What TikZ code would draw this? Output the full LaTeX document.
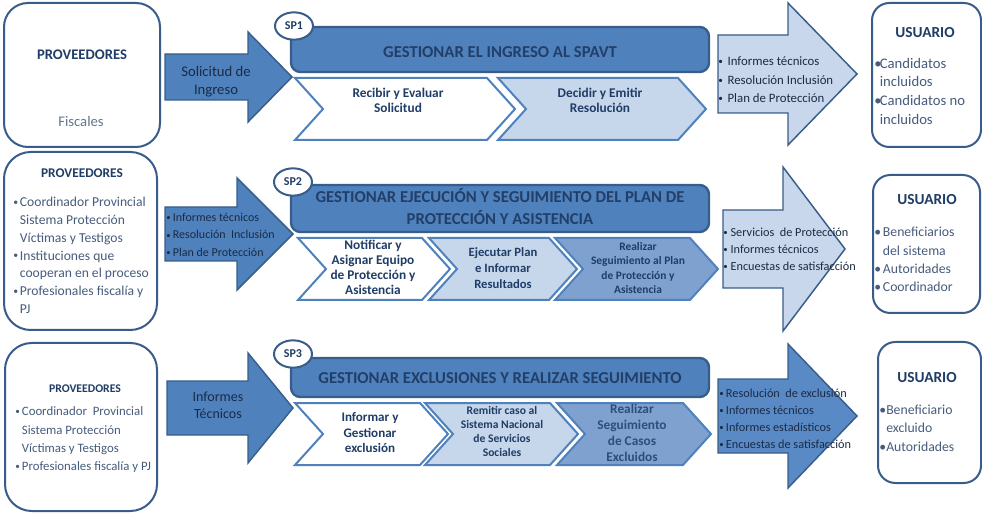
\documentclass[tikz,border=0pt]{standalone}
\usepackage{fontspec}
\usepackage{graphicx}
\setmainfont{Carlito}
\usetikzlibrary{shapes.geometric}

\definecolor{bar}{HTML}{4F81BD}
\definecolor{barline}{HTML}{385D8A}
\definecolor{pale}{HTML}{C6D6EB}
\definecolor{paleout}{HTML}{C8D7EB}
\definecolor{midblue}{HTML}{7EA1CF}
\definecolor{outdark}{HTML}{5A8AC6}
\definecolor{navy}{HTML}{1F3D66}
\definecolor{ink}{HTML}{1A2B45}
\definecolor{slate}{HTML}{475C7C}
\definecolor{fog}{HTML}{62768F}
\definecolor{headtxt}{HTML}{223F69}
\definecolor{steptxt}{HTML}{2E4E78}

\newlength\bw
% full-size bullet and a smaller one, each in a box of width \bw
\newcommand\bl{\strut\makebox[\bw][l]{\textbullet}}
\newcommand\sbl{\strut\makebox[\bw][l]{\raisebox{.08em}{\scalebox{.72}{\textbullet}}}}
\newcommand\ind{\strut\hspace*{\bw}}
\newcommand\fs[2]{\fontsize{#1}{#2}\selectfont}

% chevron: style, left x, right x, top y, bottom y, point depth
\newcommand\chevron[6]{%
  \draw[chev,#1] (#2,#4) -- (#3,#4) -- ({#3+#6},{(#4+#5)/2}) -- (#3,#5)
    -- (#2,#5) -- ({#2+#6},{(#4+#5)/2}) -- cycle;}
% block arrow: style, tail x, head base x, tip x, centre y, half body, half head
\newcommand\blockarrow[7]{%
  \draw[#1] (#2,{#5-#6}) -- (#3,{#5-#6}) -- (#3,{#5-#7}) -- (#4,#5)
    -- (#3,{#5+#7}) -- (#3,{#5+#6}) -- (#2,{#5+#6}) -- cycle;}

\tikzset{
  frame/.style={draw=barline, line width=1.5pt, fill=white},
  inarrow/.style={draw=barline, line width=1.1pt, fill=bar},
  outarrow/.style={draw=barline, line width=1.1pt, fill=paleout},
  titlebar/.style={draw=barline, line width=1.8pt, fill=bar, rounded corners=7pt},
  chev/.style={draw=bar, line width=1.5pt},
  tag/.style={ellipse, draw=barline, line width=1.5pt, fill=white, inner sep=0pt,
     minimum width=28.5pt, minimum height=20.5pt, text=navy, font=\bfseries\fs{9}{10}},
  head/.style={inner sep=0pt, text=headtxt, font=\bfseries\fs{12.5}{16.5}, align=center},
  boxhead/.style={inner sep=0pt, text=navy},
  stepname/.style={inner sep=0pt, align=center, text=navy},
  list/.style={inner sep=0pt, align=left, anchor=west},
}

\begin{document}
\begin{tikzpicture}[x=0.75pt, y=-0.75pt, line join=miter]
\useasboundingbox (0,0) rectangle (982,513);

% ---------- SP1 ----------
\draw[frame, rounded corners=18pt] (4,3) rectangle (160,147);
\node[boxhead, font=\bfseries\fs{11}{13}] (prov1) at (82,55) {PROVEEDORES};
\node[inner sep=0pt, text=fog, font=\fs{11}{13}] (fisc) at (81,121) {Fiscales};

\blockarrow{inarrow}{165}{248}{292}{77}{23}{45}
\node[stepname, text=ink, font=\fs{11}{13.5}] (in1) at (216,82) {\strut Solicitud de\\Ingreso\strut};

\draw[titlebar] (291,27) rectangle (709,72);
\node[head] (t1) at (500,52) {GESTIONAR EL INGRESO AL SPAVT};
\node[tag] (sp1) at (294,26) {SP1};

\chevron{fill=white}{295}{487}{78}{140}{28}
\chevron{fill=pale}{498}{678}{78}{140}{28}
\node[stepname, font=\bfseries\fs{10}{11.3}] (s11) at (398,102) {\strut Recibir y Evaluar\\Solicitud\strut};
\node[stepname, font=\bfseries\fs{10}{11.3}] (s12) at (600,102) {\strut Decidir y Emitir\\Resolución\strut};

\blockarrow{outarrow}{718}{788}{857}{74}{39}{71}
\node[list, text=ink, font=\fs{9.6}{13.9}\setlength\bw{7pt}] (out1) at (718,80.5)
  {\sbl Informes técnicos\\\sbl Resolución Inclusión\\\sbl Plan de Protección};

\draw[frame, rounded corners=13pt] (872,3) rectangle (981,147);
\node[boxhead, font=\bfseries\fs{11.5}{13}] (usr1) at (925,33) {USUARIO};
\node[list, text=slate, font=\fs{11}{13.9}\setlength\bw{4.2pt}] (usl1) at (874,92.5)
  {\bl Candidatos\\\ind incluidos\\\bl Candidatos no\\\ind incluidos};

% ---------- SP2 ----------
\draw[frame, rounded corners=20pt] (4,152) rectangle (157,330);
\node[boxhead, font=\bfseries\fs{10}{12}] (prov2) at (82,173) {PROVEEDORES};
\node[list, text=slate, font=\fs{10.2}{13.35}\setlength\bw{5pt}] (pl2) at (13,256.5)
  {\sbl Coordinador Provincial\\\ind Sistema Protección\\\ind Víctimas y Testigos\\
   \sbl Instituciones que\\\ind cooperan en el proceso\\\sbl Profesionales fiscalía y\\\ind PJ};

\blockarrow{inarrow}{165}{237}{293}{234}{27}{56}
\node[list, text=ink, font=\fs{9}{13}\setlength\bw{5pt}] (in2) at (166,235.5)
  {\sbl Informes técnicos\\\sbl Resolución\ \ Inclusión\\\sbl Plan de Protección};

\draw[titlebar] (291,185) rectangle (709,232);
\node[head] (t2) at (500,209) {\strut GESTIONAR EJECUCIÓN Y SEGUIMIENTO DEL PLAN DE\\PROTECCIÓN Y ASISTENCIA\strut};
\node[tag] (sp2) at (293,182) {SP2};

\chevron{fill=white}{298}{422}{238}{300}{28}
\chevron{fill=pale}{429}{549}{238}{300}{28}
\chevron{fill=midblue}{555}{690}{238}{300}{28}
\node[stepname, font=\bfseries\fs{10}{11.25}] (s21) at (373,269.5) {\strut Notificar y\\Asignar Equipo\\de Protección y\\Asistencia\strut};
\node[stepname, font=\bfseries\fs{9.5}{12}] (s22) at (503,269) {\strut Ejecutar Plan\\e Informar\\Resultados\strut};
\node[stepname, font=\bfseries\fs{8.6}{10.9}] (s23) at (638,269) {\strut Realizar\\Seguimiento al Plan\\de Protección y\\Asistencia\strut};

\blockarrow{outarrow}{723}{783}{845}{249}{39}{82}
\node[list, text=ink, font=\fs{9.2}{12.75}\setlength\bw{5.5pt}] (out2) at (723,250)
  {\sbl Servicios\ \ de Protección\\\sbl Informes técnicos\\\sbl Encuestas de satisfacción};

\draw[frame, rounded corners=13pt] (873,175) rectangle (980,313);
\node[boxhead, font=\bfseries\fs{11.5}{13}] (usr2) at (927,200) {USUARIO};
\node[list, text=slate, font=\fs{10.3}{13.7}\setlength\bw{6.5pt}] (usl2) at (874,260.5)
  {\bl Beneficiarios\\\ind del sistema\\\bl Autoridades\\\bl Coordinador};

% ---------- SP3 ----------
\draw[frame, rounded corners=20pt] (5,343) rectangle (157,511);
\node[boxhead, font=\bfseries\fs{8.8}{11}] (prov3) at (85,389) {PROVEEDORES};
\node[list, text=slate, font=\fs{9.6}{13.7}\setlength\bw{5pt}] (pl3) at (15,439.5)
  {\sbl Coordinador\ \ Provincial\\\ind Sistema Protección\\\ind Víctimas y Testigos\\\sbl Profesionales fiscalía y PJ};

\blockarrow{inarrow}{167}{248}{293}{408}{27}{55}
\node[stepname, text=ink, font=\fs{10.5}{12.75}] (in3) at (218,406.5) {\strut Informes\\Técnicos\strut};

\draw[titlebar] (291,358) rectangle (709,397);
\node[head] (t3) at (500,378) {GESTIONAR EXCLUSIONES Y REALIZAR SEGUIMIENTO};
\node[tag] (sp3) at (293,354) {SP3};

\chevron{fill=white}{295}{420}{403}{465}{28}
\chevron{fill=pale}{425}{550}{403}{465}{28}
\chevron{fill=midblue}{557}{683}{403}{465}{28}
\node[stepname, font=\bfseries\fs{9.8}{11.6}] (s31) at (370,434) {\strut Informar y\\Gestionar\\exclusión\strut};
\node[stepname, font=\bfseries\fs{8.7}{10.5}] (s32) at (502,433) {\strut Remitir caso al\\Sistema Nacional\\de Servicios\\Sociales\strut};
\node[stepname, text=steptxt, font=\bfseries\fs{10}{12}] (s33) at (632,434) {\strut Realizar\\Seguimiento\\de Casos\\Excluidos\strut};

\blockarrow{outarrow, fill=outdark}{718}{788}{857}{416}{37}{72}
\node[list, text=ink, font=\fs{9.2}{12.75}\setlength\bw{5pt}] (out3) at (719,419.5)
  {\sbl Resolución\ \ de exclusión\\\sbl Informes técnicos\\\sbl Informes estadísticos\\\sbl Encuestas de satisfacción};

\draw[frame, rounded corners=13pt] (878,342) rectangle (981,483);
\node[boxhead, font=\bfseries\fs{11.5}{13}] (usr3) at (927,378) {USUARIO};
\node[list, text=slate, font=\fs{10.3}{14}\setlength\bw{5.25pt}] (usl3) at (879,429)
  {\bl Beneficiario\\\ind excluido\\\bl Autoridades};
\end{tikzpicture}
\end{document}
